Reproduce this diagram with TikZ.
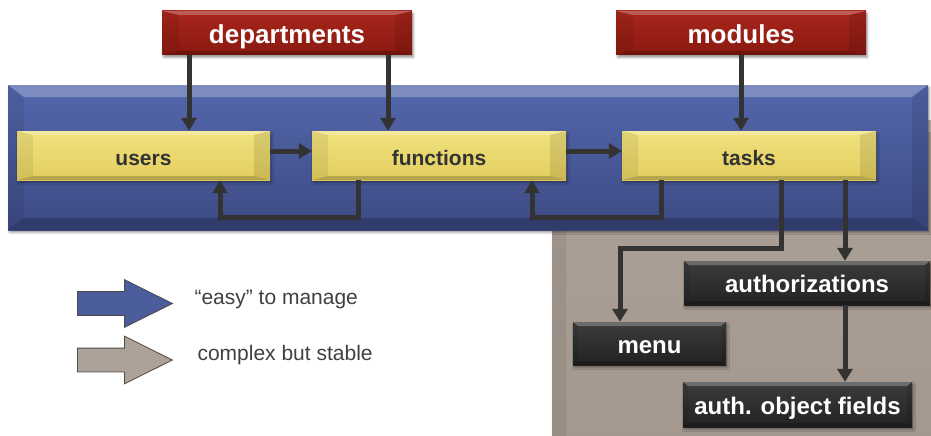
\documentclass[tikz,border=0pt]{standalone}
\usepackage{fontspec}
\setmainfont{Liberation Sans}
\usetikzlibrary{positioning,calc,shapes.arrows,arrows.meta,shadows.blur}

\definecolor{bluetop}{HTML}{5367AC}
\definecolor{bluebot}{HTML}{3D4A84}
\definecolor{stonetop}{HTML}{ADA298}
\definecolor{stonebot}{HTML}{A4988E}
\definecolor{redtop}{HTML}{A8261C}
\definecolor{redbot}{HTML}{8A1910}
\definecolor{yellowtop}{HTML}{F1E27E}
\definecolor{yellowbot}{HTML}{E3CE5E}
\definecolor{darktop}{HTML}{3C3C3C}
\definecolor{darkbot}{HTML}{222222}
\definecolor{linkgray}{HTML}{333333}

% light top and dark bottom facets, #1 = side depth, #2 = top/bottom depth
\tikzset{
  bevel/.style 2 args={path picture={
    \coordinate (bsw) at (path picture bounding box.south west);
    \coordinate (bne) at (path picture bounding box.north east);
    \coordinate (btl) at (bsw |- bne);
    \coordinate (bbr) at (bne |- bsw);
    \fill[white, opacity=.25] (btl) -- (bne) -- ([xshift=-#1, yshift=-#2]bne)
      -- ([xshift=#1, yshift=-#2]btl) -- cycle;
    \fill[black, opacity=.07] (bsw) -- (btl) -- ([xshift=#1, yshift=-#2]btl)
      -- ([xshift=#1, yshift=#2]bsw) -- cycle;
    \fill[black, opacity=.10] (bbr) -- (bne) -- ([xshift=-#1, yshift=-#2]bne)
      -- ([xshift=-#1, yshift=#2]bbr) -- cycle;
    \fill[black, opacity=.20] (bsw) -- (bbr) -- ([xshift=-#1, yshift=#2]bbr)
      -- ([xshift=#1, yshift=#2]bsw) -- cycle;
  }},
}

\begin{document}
\begin{tikzpicture}[x=1pt, y=-1pt,
    box/.style={rectangle, inner sep=0pt, text depth=0pt,
      blur shadow={shadow xshift=1.5pt, shadow yshift=-2.5pt, shadow opacity=40}},
    bluepanel/.style={box, top color=bluetop, bottom color=bluebot, bevel={16pt}{12pt}},
    stonepanel/.style={box, top color=stonetop, bottom color=stonebot, bevel={14pt}{12pt}},
    master/.style={box, top color=redtop, bottom color=redbot, bevel={17pt}{4pt},
      text height=22pt, text=white, font=\fontsize{26}{30}\selectfont\bfseries},
    object/.style={box, top color=yellowtop, bottom color=yellowbot, bevel={16pt}{4pt},
      text height=19pt, text=linkgray, font=\fontsize{21}{25}\selectfont\bfseries},
    detail/.style={box, top color=darktop, bottom color=darkbot, bevel={5pt}{4pt},
      text height=19pt, text=white, font=\fontsize{24}{28}\selectfont\bfseries},
    flow/.style={draw=linkgray, line width=5pt, -{Triangle[width=15pt,length=13pt]}},
    legendarrow/.style={single arrow, anchor=tail, draw=black!70, line width=.8pt,
      inner xsep=0pt, inner ysep=11.5pt, single arrow head extend=12pt,
      single arrow tip angle=53, minimum height=95pt},
    legendtext/.style={anchor=west, text=black!75, font=\fontsize{21}{25}\selectfont},
  ]
  \useasboundingbox (0,0) rectangle (931,436);
  \clip (0,0) rectangle (931,436);

  % background areas
  \node[stonepanel, minimum width=400pt, minimum height=330pt] (stable) at (752,285) {};
  \node[bluepanel, minimum width=920pt, minimum height=145pt] (managed) at (468,157.5) {};

  % master data
  \node[master, minimum width=250pt, minimum height=44pt] (departments) at (287,33) {departments};
  \node[master, minimum width=250pt, minimum height=44pt] (modules) at (741,33) {modules};

  % objects
  \node[object, minimum width=253pt, minimum height=49pt] (users) at (143.5,155.5) {users};
  \node[object, minimum width=254pt, minimum height=49pt] (functions) at (439,155.5) {functions};
  \node[object, minimum width=254pt, minimum height=49pt] (tasks) at (749,155.5) {tasks};

  % details
  \node[detail, minimum width=246pt, minimum height=44pt] (authorizations) at (807,283) {authorizations};
  \node[detail, minimum width=153pt, minimum height=43pt] (menu) at (649.5,343.5) {menu};
  \node[detail, minimum width=229pt, minimum height=45pt] (fields) at (797.5,404.5) {auth. object fields};

  % links
  \draw[flow] ([xshift=-98pt]departments.south) -- ([xshift=-98pt]departments.south |- users.north);
  \draw[flow] ([xshift=101pt]departments.south) -- ([xshift=101pt]departments.south |- functions.north);
  \draw[flow] (modules.south) -- (modules.south |- tasks.north);
  \draw[flow] ([yshift=4.5pt]users.east) -- ([yshift=4.5pt]functions.west);
  \draw[flow] ([yshift=4.5pt]functions.east) -- ([yshift=4.5pt]tasks.west);
  \draw[flow] ([xshift=-81pt]functions.south) -- ++(0,37) -| ([xshift=76.5pt]users.south);
  \draw[flow] ([xshift=-88pt]tasks.south) -- ++(0,37) -| ([xshift=93pt]functions.south);
  \draw[flow] ([xshift=32pt]tasks.south) -- ++(0,68) -| ([xshift=-29.5pt]menu.north);
  \draw[flow] ([xshift=96pt]tasks.south) -- ([xshift=96pt]tasks.south |- authorizations.north);
  \draw[flow] ([xshift=38pt]authorizations.south) -- ([xshift=38pt]authorizations.south |- fields.north);

  % legend
  \node[legendarrow, fill=bluetop!90!black] (easyarrow) at (77,303.5) {};
  \node[legendarrow, fill=stonetop] (stablearrow) at (77,360) {};
  \node[legendtext] (easylabel) at (191,299) {“easy” to manage};
  \node[legendtext] (stablelabel) at (194,355) {complex but stable};
\end{tikzpicture}
\end{document}
